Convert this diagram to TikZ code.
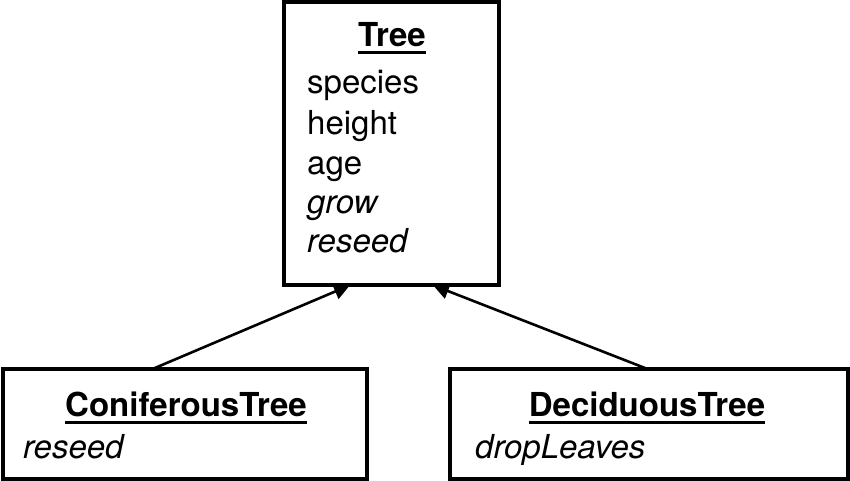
\documentclass[tikz,border=0pt]{standalone}
\usepackage{fontspec}
\setmainfont{TeX Gyre Heros}
\usetikzlibrary{arrows.meta}
\begin{document}
\begin{tikzpicture}[x=1pt,y=-1pt,
  classbox/.style={draw=black,fill=white,line width=4pt,rectangle,inner sep=0pt},
  txt/.style={inner sep=0pt,anchor=base west,font=\fontsize{33}{40}\selectfont},
  title/.style={inner sep=0pt,anchor=base,font=\fontsize{33}{40}\selectfont\bfseries},
  uline/.style={line width=2.7pt},
  inherit/.style={line width=2.6pt,-{Triangle[length=16pt,width=16pt]}}]
\useasboundingbox (0,0) rectangle (850,481);
% positions
\coordinate (treec) at (391.5,143.5);
\coordinate (conc) at (185,424);
\coordinate (decc) at (649,424);
% connectors (drawn first, boxes cover them)
\node[minimum width=215pt,minimum height=283pt,inner sep=0pt] (treeghost) at (treec) {};
\node[minimum width=364pt,minimum height=110pt,inner sep=0pt] (conghost) at (conc) {};
\node[minimum width=398pt,minimum height=110pt,inner sep=0pt] (decghost) at (decc) {};
\draw[inherit] ([xshift=-32pt]conghost.north) -- ([xshift=-41.5pt]treeghost.south);
\draw[inherit] ([xshift=-2pt]decghost.north) -- ([xshift=41.5pt]treeghost.south);
% boxes
\node[classbox,minimum width=215pt,minimum height=283pt] (tree) at (treec) {};
\node[classbox,minimum width=364pt,minimum height=110pt] (con) at (conc) {};
\node[classbox,minimum width=398pt,minimum height=110pt] (dec) at (decc) {};
% Tree texts
\node[title] (tt) at (392,47) {Tree};
\draw[uline] ([yshift=-5.5pt]tt.base west) -- ([yshift=-5.5pt]tt.base east);
\node[txt] (a1) at (307,94) {species};
\node[txt] (a2) at (307,135) {height};
\node[txt] (a3) at (307,175) {age};
\node[txt] (a4) at (307,213.5) {\itshape grow};
\node[txt] (a5) at (307,252) {\itshape reseed};
% Coniferous texts
\node[title] (ct) at (186,416.5) {ConiferousTree};
\draw[uline] ([yshift=-6pt]ct.base west) -- ([yshift=-6pt]ct.base east);
\node[txt] (c1) at (23,458) {\itshape reseed};
% Deciduous texts
\node[title] (dt) at (647,416.5) {DeciduousTree};
\draw[uline] ([yshift=-6pt]dt.base west) -- ([yshift=-6pt]dt.base east);
\node[txt] (d1) at (475,458) {\itshape dropLeaves};
\end{tikzpicture}
\end{document}
